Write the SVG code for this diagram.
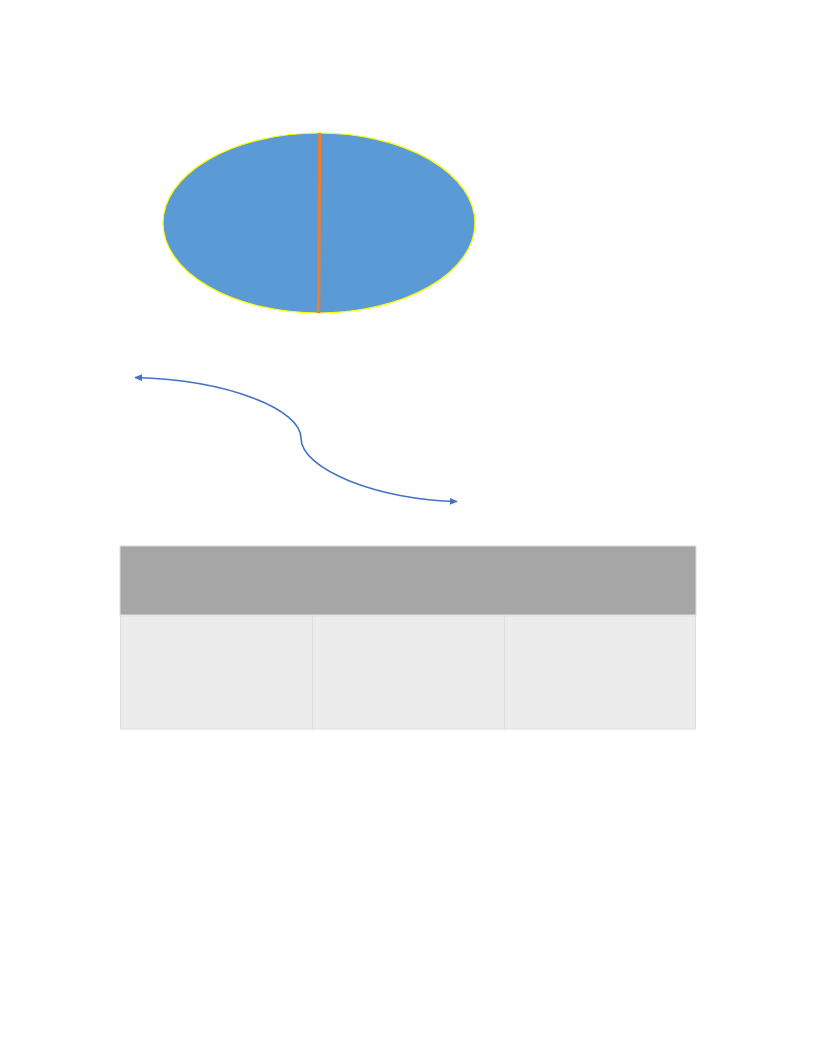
<svg xmlns="http://www.w3.org/2000/svg" width="816" height="1056" viewBox="0 0 816 1056">
  <style>
    .cell { fill: #ececec; stroke: #dedede; stroke-width: 1; }
    .conn { fill: none; stroke: #4472c4; stroke-width: 1.6; }
  </style>
  <defs>
    <marker id="arrow" viewBox="0 0 10 10" refX="9" refY="5" markerWidth="8" markerHeight="7" orient="auto-start-reverse" markerUnits="userSpaceOnUse" preserveAspectRatio="none">
      <path d="M0,0 L10,5 L0,10 z" fill="#4472c4"/>
    </marker>
  </defs>
  <rect width="816" height="1056" fill="#ffffff"/>
  <g id="ellipse">
    <ellipse cx="319" cy="223" rx="156" ry="90" fill="#5b9bd5" stroke="#ffff00" stroke-width="1.2"/>
    <line x1="319.7" y1="133" x2="318.5" y2="313" stroke="#ed7d31" stroke-width="3.2"/>
  </g>
  <g id="connectors">
    <path class="conn" d="M135,377.5 C230,380 301,410 301,438 C301,470 380,500 457,501.5" marker-start="url(#arrow)" marker-end="url(#arrow)"/>
  </g>
  <g id="table">
    <rect x="120" y="546" width="576" height="69" fill="#a6a6a6" stroke="#dedede" stroke-width="1"/>
    <rect class="cell" x="120.5" y="616" width="192" height="113"/>
    <rect class="cell" x="312.5" y="616" width="192" height="113"/>
    <rect class="cell" x="504.5" y="616" width="191" height="113"/>
  </g>
</svg>
